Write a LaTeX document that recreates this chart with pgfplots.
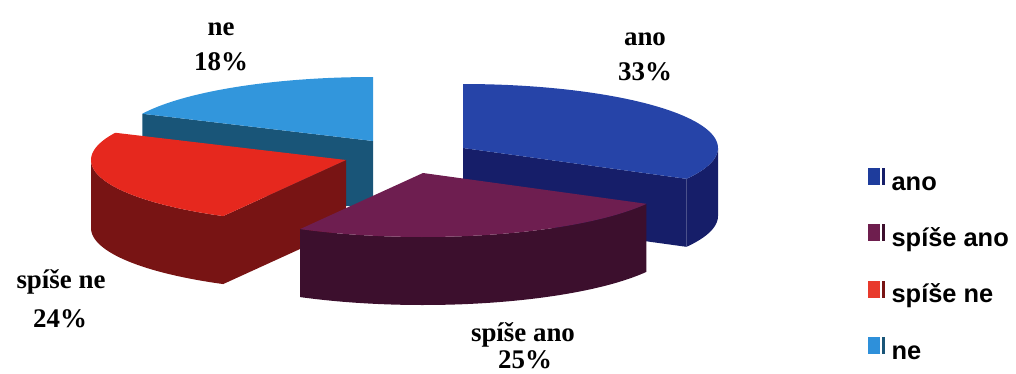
\documentclass[border=0pt]{standalone}
\usepackage{fontspec}
\setmainfont{Liberation Serif}
\newfontfamily\legendfont{Liberation Sans}
\usepackage{pgfplots}
\pgfplotsset{compat=1.18}

% slice colours: top face / side faces / legend key
\definecolor{anoTop}{HTML}{2644A8}
\definecolor{anoSide}{HTML}{161E69}
\definecolor{anoKey}{HTML}{1E3C9C}
\definecolor{saTop}{HTML}{6E1E50}
\definecolor{saSide}{HTML}{3C0F2D}
\definecolor{saKey}{HTML}{6E1E4E}
\definecolor{snTop}{HTML}{E6281E}
\definecolor{snSide}{HTML}{781414}
\definecolor{snKey}{HTML}{E83A2C}
\definecolor{neTop}{HTML}{3296DC}
\definecolor{neSide}{HTML}{195578}
\definecolor{neKey}{HTML}{2E90DA}

% shares in percent
\def\vAno{33}
\def\vSpiseAno{25}
\def\vSpiseNe{24}
\def\vNe{18}

% slice boundaries, clockwise from 12 o'clock
\pgfmathsetmacro\aA{90}
\pgfmathsetmacro\aB{\aA-3.6*\vAno}
\pgfmathsetmacro\aC{\aB-3.6*\vSpiseAno}
\pgfmathsetmacro\aD{\aC-3.6*\vSpiseNe}
\pgfmathsetmacro\aE{\aD-3.6*\vNe}

% ellipse radii and thickness of the disc
\def\rx{255}
\def\ry{64}
\def\dep{68}

% top face of a slice: centre (#1,#2), angles #3..#4, colour #5
\newcommand{\topface}[5]{%
  \addplot[forget plot, fill=#5, draw=none, domain=0:3, samples=181, variable=\s]
  ({#1+\rx*min(min(\s,1),3-\s)*cos((#3)+((#4)-(#3))*min(max(\s-1,0),1))},
   {#2-\ry*min(min(\s,1),3-\s)*sin((#3)+((#4)-(#3))*min(max(\s-1,0),1))});}
% curved outer wall between angles #3..#4
\newcommand{\outerside}[5]{%
  \addplot[forget plot, fill=#5, draw=none, domain=0:3, samples=181, variable=\s]
  ({#1+\rx*cos((#3)+((#4)-(#3))*(min(\s,1)-max(\s-2,0)))},
   {#2-\ry*sin((#3)+((#4)-(#3))*(min(\s,1)-max(\s-2,0)))+\dep*min(max(\s-1,0),1)});}
% flat cut face along angle #3
\newcommand{\radialface}[4]{%
  \addplot[forget plot, fill=#4, draw=none, domain=0:3, samples=4, variable=\s]
  ({#1+\rx*(min(\s,1)-max(\s-2,0))*cos(#3)},
   {#2-\ry*(min(\s,1)-max(\s-2,0))*sin(#3)+\dep*min(max(\s-1,0),1)});}

% legend key: coloured block plus a thin dark bar
\newcommand{\keyimage}[2]{%
  \addlegendimage{area legend, fill=#1, legend image code/.code={%
    \fill[#1] (0bp,-1bp) rectangle (11bp,15bp);
    \fill[#2] (13.5bp,-1bp) rectangle (16bp,15bp);
    \path (23bp,0bp);}}}

\begin{document}
\begin{tikzpicture}
\begin{axis}[
  scale only axis, width=1016bp, height=373bp,
  xmin=0, xmax=1016, ymin=0, ymax=373, y dir=reverse,
  hide axis, clip=false,
  legend style={at={(axis cs:868,168)}, anchor=north west, draw=none, fill=none,
    font=\legendfont\bfseries\fontsize{25.5}{30}\selectfont,
    row sep=28bp, inner sep=0pt,
    nodes={inner sep=0pt, text height=20bp, text depth=6bp}},
  legend cell align=left,
]
% ne (back left)
\radialface{373}{141}{\aD}{neSide}
\topface{373}{141}{\aE}{\aD}{neTop}
% ano (back right)
\radialface{463}{148}{\aB}{anoSide}
\outerside{463}{148}{\aB}{0}{anoSide}
\topface{463}{148}{\aB}{\aA}{anoTop}
% spise ne (left)
\radialface{346}{160}{\aC}{snSide}
\outerside{346}{160}{-180}{\aC}{snSide}
\topface{346}{160}{\aD}{\aC}{snTop}
% spise ano (front)
\outerside{423}{173}{\aC}{\aB}{saSide}
\topface{423}{173}{\aC}{\aB}{saTop}

\keyimage{anoKey}{anoSide}
\addlegendentry{ano}
\keyimage{saKey}{saSide}
\addlegendentry{spíše ano}
\keyimage{snKey}{snSide}
\addlegendentry{spíše ne}
\keyimage{neKey}{neSide}
\addlegendentry{ne}

% data labels
\begin{scope}[every node/.style={anchor=base, font=\bfseries\fontsize{27}{32}\selectfont, inner sep=0pt}]
\node at (axis cs:645,45) {ano};
\node at (axis cs:645,80) {\vAno\%};
\node at (axis cs:221,35) {ne};
\node at (axis cs:221,70) {\vNe\%};
\node at (axis cs:61,288) {spíše ne};
\node at (axis cs:60,327) {\vSpiseNe\%};
\node at (axis cs:523,341) {spíše ano};
\node at (axis cs:525,368) {\vSpiseAno\%};
\end{scope}
\end{axis}
\pgfresetboundingbox
\path (current axis.south west) rectangle (current axis.north east);
\end{tikzpicture}
\end{document}
